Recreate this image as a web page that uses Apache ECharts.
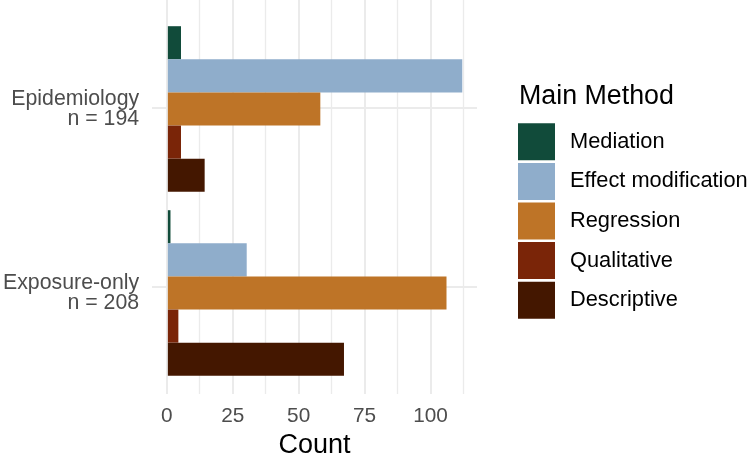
<!DOCTYPE html>
<html><head><meta charset="utf-8">
<script src="https://cdn.jsdelivr.net/npm/echarts@6/dist/echarts.min.js"></script>
<style>html,body{margin:0;padding:0;background:#fff}#c{width:749px;height:464px}</style>
</head><body><div id="c"></div>
<script>
const categories = ['Epidemiology', 'Exposure-only'];
const sampleSizes = [194, 208];
const methods = ['Mediation', 'Effect modification', 'Regression', 'Qualitative', 'Descriptive'];
const mediation = [5, 1];
const effectModification = [112, 30];
const regression = [58, 106];
const qualitative = [5, 4];
const descriptive = [14, 67];
const majorTicks = [0, 25, 50, 75, 100];
const minorTicks = [12.5, 37.5, 62.5, 87.5, 112.5];
const colors = ['#114B3A', '#8FADCB', '#BE7427', '#7A2508', '#441700'];

const seriesValues = [mediation, effectModification, regression, qualitative, descriptive];
const FONT = "'Liberation Sans', Arial, sans-serif";
const dataMax = Math.max(...seriesValues.flat());
const xMin = -0.05 * dataMax, xMax = dataMax * 1.05;

const chart = echarts.init(document.getElementById('c'), null, {renderer: 'canvas'});
const gridPos = {left: 152, width: 325};

const option = {
  backgroundColor: '#fff',
  animation: false,
  title: {
    text: 'Main Method', left: 519, top: 83, padding: 0,
    textStyle: {fontFamily: FONT, fontSize: 26.8, fontWeight: 'normal', color: '#000', lineHeight: 27}
  },
  legend: {
    data: methods, orient: 'vertical', left: 518, top: 123.3, padding: 0,
    itemWidth: 37, itemHeight: 37, itemGap: 2.6, icon: 'rect',
    textStyle: {fontFamily: FONT, fontSize: 21.8, color: '#000', padding: [0, 0, 0, 10]}
  },
  grid: [
    {left: gridPos.left, width: gridPos.width, top: 0, height: 402, containLabel: false},
    {left: gridPos.left, width: gridPos.width, top: 17, height: 368, containLabel: false}
  ],
  xAxis: [
    {
      type: 'value', gridIndex: 0, min: xMin, max: xMax,
      axisLine: {show: false}, axisTick: {show: false, customValues: majorTicks},
      axisLabel: {customValues: majorTicks, fontFamily: FONT, fontSize: 20.8, color: '#4D4D4D', margin: 11, lineHeight: 22},
      splitLine: {show: true, lineStyle: {color: '#EBEBEB', width: 2}},
      name: 'Count', nameLocation: 'middle', nameGap: 38,
      nameTextStyle: {fontFamily: FONT, fontSize: 27, color: '#000', lineHeight: 27}
    },
    {
      type: 'value', gridIndex: 0, min: xMin, max: xMax,
      axisLine: {show: false}, axisTick: {show: false, customValues: minorTicks},
      axisLabel: {show: false},
      splitLine: {show: true, lineStyle: {color: '#EBEBEB', width: 1.3}}
    },
    {
      type: 'value', gridIndex: 1, min: xMin, max: xMax, show: false,
      splitLine: {show: false}
    }
  ],
  yAxis: [
    {
      type: 'value', gridIndex: 0, min: 0.4, max: categories.length + 0.6, inverse: true,
      axisLine: {show: false}, axisTick: {show: false, customValues: categories.map((_, i) => i + 1)},
      axisLabel: {show: false},
      splitLine: {show: true, lineStyle: {color: '#EBEBEB', width: 2}}
    },
    {
      type: 'category', gridIndex: 1, data: categories, inverse: true,
      axisLine: {show: false}, axisTick: {show: false}, splitLine: {show: false},
      axisLabel: {
        fontFamily: FONT, fontSize: 21.3, color: '#4D4D4D', margin: 14, lineHeight: 20, align: 'right',
        formatter: (v) => v + '\n' + 'n = ' + sampleSizes[categories.indexOf(v)]
      }
    }
  ],
  series: methods.map((m, k) => ({
    name: m, type: 'bar', xAxisIndex: 2, yAxisIndex: 1,
    data: seriesValues[k],
    itemStyle: {color: colors[k]},
    barGap: '0%', barCategoryGap: '10%',
    emphasis: {disabled: true}
  }))
};
chart.setOption(option);
</script></body></html>
